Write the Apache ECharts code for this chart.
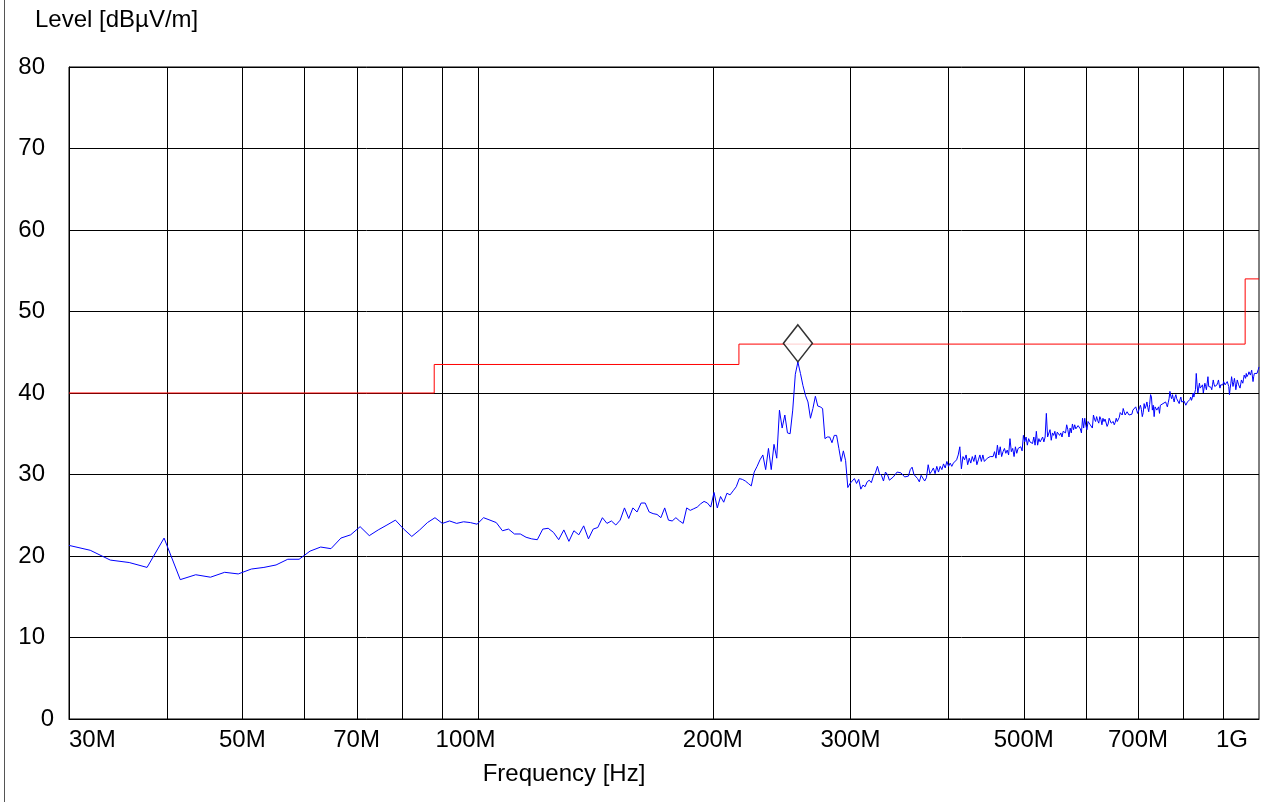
<!DOCTYPE html>
<html>
<head>
<meta charset="utf-8">
<title>Radiated emission 30 MHz – 1 GHz</title>
<script src="https://cdn.jsdelivr.net/npm/echarts@6/dist/echarts.min.js"></script>
<style>
  html, body { margin: 0; padding: 0; background: #fff; }
  #chart { width: 1272px; height: 802px; }
</style>
</head>
<body>
<div id="chart"></div>
<script>
// Receiver sweep: 501 points in linear steps from 30 MHz to 1 GHz
const SWEEP_START_MHZ = 30;
const SWEEP_STEP_MHZ = 1.94;

// Measured level per sweep point [dBµV/m]
const levelDb = [
  21.3, 20.7, 19.5, 19.2, 18.6, 22.2, 17.1, 17.7, 17.4, 18.0,
  17.8, 18.4, 18.6, 18.9, 19.6, 19.6, 20.6, 21.1, 20.9, 22.2,
  22.6, 23.6, 22.5, 23.2, 23.8, 24.4, 23.3, 22.4, 23.2, 24.1,
  24.7, 24.0, 24.3, 24.0, 24.2, 24.1, 23.9, 24.7, 24.4, 24.1,
  23.1, 23.3, 22.7, 22.7, 22.3, 22.1, 22.0, 23.3, 23.4, 22.9,
  22.0, 23.2, 21.8, 23.1, 22.6, 23.7, 22.1, 23.3, 23.5, 24.7,
  24.0, 24.3, 23.8, 24.4, 25.9, 24.6, 25.9, 25.4, 26.5, 26.5,
  25.4, 25.2, 25.1, 24.7, 25.9, 24.4, 24.3, 24.7, 24.3, 24.0,
  25.9, 25.6, 25.8, 26.0, 26.4, 26.7, 26.5, 26.0, 27.8, 25.9,
  27.3, 26.6, 27.7, 27.5, 28.0, 28.5, 29.5, 29.4, 29.2, 28.9,
  28.6, 30.3, 31.0, 31.8, 32.4, 30.6, 33.2, 30.6, 33.7, 32.0,
  37.9, 35.7, 37.3, 35.1, 35.0, 37.9, 42.3, 43.8, 42.4, 40.9,
  39.7, 38.9, 36.9, 38.1, 39.6, 38.4, 38.3, 38.1, 34.4, 34.6,
  34.6, 33.9, 34.8, 34.8, 33.2, 31.6, 32.9, 31.7, 28.4, 28.9,
  29.2, 29.5, 28.9, 29.4, 28.2, 28.7, 28.5, 29.1, 29.3, 29.0,
  29.8, 30.2, 31.0, 30.1, 29.9, 29.2, 30.3, 30.0, 29.3, 29.5,
  29.7, 29.9, 30.3, 30.1, 30.2, 30.4, 29.7, 29.9, 29.8, 30.6,
  30.9, 30.0, 30.1, 29.5, 29.1, 29.9, 30.1, 29.2, 29.6, 31.2,
  30.1, 30.4, 30.8, 30.1, 31.0, 30.3, 31.0, 30.6, 31.3, 30.8,
  31.6, 31.0, 31.4, 31.0, 31.4, 31.2, 31.8, 32.4, 33.4, 30.7,
  32.2, 31.8, 32.4, 31.2, 32.0, 31.4, 32.2, 31.6, 32.4, 31.2,
  31.8, 32.4, 31.6, 32.4, 31.6, 31.8, 32.0, 32.1, 32.2, 32.4,
  32.2, 32.8, 32.0, 33.6, 32.4, 33.4, 32.2, 32.8, 33.2, 32.6,
  33.0, 32.4, 34.4, 32.8, 33.2, 32.2, 33.4, 32.6, 33.2, 33.0,
  33.4, 32.9, 34.8, 34.0, 34.6, 33.6, 34.4, 34.0, 34.2, 33.8,
  34.6, 33.6, 35.3, 33.6, 34.4, 34.0, 34.2, 34.6, 34.0, 34.6,
  37.5, 34.6, 34.4, 35.5, 34.2, 35.1, 34.8, 35.3, 34.4, 35.2,
  35.2, 34.8, 35.1, 34.6, 35.3, 35.5, 35.1, 36.1, 35.5, 34.6,
  35.7, 35.1, 36.2, 35.5, 36.1, 35.6, 35.7, 36.0, 35.9, 35.6,
  35.1, 36.9, 35.7, 36.9, 36.0, 35.5, 36.5, 36.3, 36.1, 35.9,
  35.7, 37.3, 36.8, 36.5, 37.1, 36.6, 36.3, 37.1, 36.8, 36.1,
  36.9, 36.5, 36.8, 36.7, 35.9, 36.2, 36.9, 36.6, 36.3, 36.5,
  36.5, 36.1, 36.4, 36.9, 36.5, 36.3, 37.0, 37.6, 37.5, 37.3,
  38.1, 37.7, 37.3, 37.5, 37.7, 37.5, 37.3, 37.4, 37.5, 37.4,
  37.9, 38.1, 37.7, 38.3, 37.9, 37.5, 37.8, 38.2, 38.5, 38.0,
  37.1, 37.6, 38.7, 38.1, 38.4, 38.9, 38.2, 37.7, 38.6, 39.8,
  39.5, 37.9, 38.5, 37.1, 38.3, 38.5, 37.9, 38.1, 38.3, 37.5,
  38.5, 38.3, 38.4, 38.7, 38.5, 38.6, 38.9, 38.6, 38.3, 38.8,
  39.3, 40.2, 39.6, 39.3, 39.8, 39.3, 38.9, 39.5, 39.8, 39.3,
  39.4, 39.5, 38.7, 39.2, 39.5, 38.9, 39.1, 38.7, 39.0, 39.1,
  38.5, 38.7, 38.9, 38.8, 38.7, 39.2, 39.5, 39.1, 39.4, 40.0,
  39.5, 40.0, 40.4, 42.4, 41.0, 40.0, 40.6, 41.2, 40.6, 40.4,
  40.7, 41.0, 40.0, 40.6, 41.2, 40.8, 40.4, 41.2, 42.0, 40.8,
  40.6, 41.0, 40.7, 40.4, 41.0, 41.6, 41.1, 40.8, 41.0, 40.6,
  41.0, 41.3, 41.6, 41.0, 40.6, 41.0, 41.1, 40.8, 41.0, 41.4,
  41.2, 41.0, 41.1, 41.2, 41.4, 41.6, 40.8, 39.8, 40.6, 41.2,
  42.0, 41.4, 40.8, 41.3, 41.8, 41.2, 40.4, 41.0, 41.6, 41.4,
  41.0, 40.8, 40.6, 41.1, 41.6, 41.4, 41.2, 41.7, 42.2, 42.0,
  41.8, 42.4, 42.0, 41.8, 42.3, 42.6, 42.4, 42.2, 42.5, 42.8,
  42.1, 41.4, 42.0, 42.4, 42.2, 42.6, 42.5, 42.4, 42.6, 42.9, 43.2
];

// Limit line (step corners)
const limitFreqMHz = [30, 88, 88, 216, 216, 960, 960, 1000];
const limitDb      = [40, 40, 43.5, 43.5, 46, 46, 54, 54];

// Final measurement marker
const markerFreqMHz = [256.98];
const markerDb      = [46.1];

// Frequency grid lines and labelled frequencies
const gridFreqMHz  = [40, 50, 60, 70, 80, 90, 100, 200, 300, 400, 500, 600, 700, 800, 900];
const tickFreqMHz  = [30, 50, 70, 100, 200, 300, 500, 700, 1000];
const tickLabels   = ['30M', '50M', '70M', '100M', '200M', '300M', '500M', '700M', '1G'];

// Level axis
const LEVEL_MIN = 0, LEVEL_MAX = 80, LEVEL_STEP = 10;

const FONT_FAMILY = '"Liberation Sans", Arial, Helvetica, sans-serif';
const FONT = '24px ' + FONT_FAMILY;

// label placement at the ends of the frequency axis
const tickPlacement = {
  '30M':  { align: 'left',   dx: 0 },
  '100M': { align: 'center', dx: -12 },
  '1G':   { align: 'right',  dx: -11 }
};

const MHZ = 1e6;
const traceData = levelDb.map((v, i) => [(SWEEP_START_MHZ + SWEEP_STEP_MHZ * i) * MHZ, v]);
const limitData = limitFreqMHz.map((f, i) => [f * MHZ, limitDb[i]]);
const markerData = markerFreqMHz.map((f, i) => [f * MHZ, markerDb[i]]);

const chart = echarts.init(document.getElementById('chart'), null, { renderer: 'canvas' });

chart.setOption({
  animation: false,
  backgroundColor: '#fff',
  grid: {
    left: 69, right: 13, top: 67, bottom: 83,
    containLabel: false,
    outerBoundsMode: 'none',
    show: true,
    borderColor: '#000',
    borderWidth: 1,
    backgroundColor: 'transparent'
  },
  xAxis: {
    type: 'log',
    logBase: 10,
    min: SWEEP_START_MHZ * MHZ,
    max: 1000 * MHZ,
    axisLine: { show: true, lineStyle: { color: '#000', width: 1 } },
    axisTick: { show: false },
    axisLabel: { show: false },
    splitLine: { show: false },
    minorTick: { show: false },
    minorSplitLine: { show: false }
  },
  yAxis: {
    type: 'value',
    min: LEVEL_MIN,
    max: LEVEL_MAX,
    interval: LEVEL_STEP,
    axisLine: { show: true, lineStyle: { color: '#000', width: 1 } },
    axisTick: { show: false },
    splitLine: { show: true, lineStyle: { color: '#000', width: 1 } },
    axisLabel: {
      margin: 15,
      color: '#000',
      fontSize: 24,
      fontFamily: FONT_FAMILY,
      formatter: v => (v === 0 ? '0' : '{a|' + v + '}'),
      rich: {
        a: { padding: [0, 9, 0, 0], fontSize: 24, fontFamily: FONT_FAMILY, color: '#000' }
      }
    }
  },
  graphic: [
    {
      type: 'line',
      shape: { x1: 4.5, y1: 0, x2: 4.5, y2: 802 },
      style: { stroke: '#555', lineWidth: 1 },
      silent: true
    },
    {
      type: 'text',
      style: {
        text: 'Level [dBµV/m]',
        x: 35, y: 20,
        font: FONT, fill: '#000',
        align: 'left', verticalAlign: 'middle'
      },
      silent: true
    },
    {
      type: 'text',
      style: {
        text: 'Frequency [Hz]',
        x: 564, y: 774,
        font: FONT, fill: '#000',
        align: 'center', verticalAlign: 'middle'
      },
      silent: true
    }
  ],
  series: [
    {
      // vertical frequency grid lines
      type: 'custom',
      coordinateSystem: 'cartesian2d',
      silent: true,
      clip: false,
      z: 1,
      data: gridFreqMHz.map(f => [f * MHZ, LEVEL_MIN]),
      encode: { x: 0, y: 1 },
      renderItem: (params, api) => {
        const f = api.value(0);
        const p0 = api.coord([f, LEVEL_MIN]);
        const p1 = api.coord([f, LEVEL_MAX]);
        const x = Math.round(p0[0]) + 0.5;
        return {
          type: 'line',
          shape: { x1: x, y1: p0[1], x2: x, y2: p1[1] },
          style: { stroke: '#000', lineWidth: 1 }
        };
      }
    },
    {
      // frequency tick labels
      type: 'custom',
      coordinateSystem: 'cartesian2d',
      silent: true,
      clip: false,
      z: 1,
      data: tickFreqMHz.map(f => [f * MHZ, LEVEL_MIN]),
      encode: { x: 0, y: 1 },
      renderItem: (params, api) => {
        const i = params.dataIndex;
        const p = api.coord([api.value(0), LEVEL_MIN]);
        const text = tickLabels[i];
        const place = tickPlacement[text] || { align: 'center', dx: 0 };
        return {
          type: 'text',
          x: p[0] + place.dx,
          y: p[1] + 9,
          style: {
            text: text,
            font: FONT,
            fill: '#000',
            align: place.align,
            verticalAlign: 'top'
          }
        };
      }
    },
    {
      name: 'Level',
      type: 'line',
      data: traceData,
      showSymbol: false,
      symbol: 'none',
      sampling: null,
      lineStyle: { color: '#0000ff', width: 1 },
      itemStyle: { color: '#0000ff' },
      z: 2
    },
    {
      name: 'Limit',
      type: 'line',
      data: limitData,
      showSymbol: false,
      symbol: 'none',
      lineStyle: { color: '#ff0000', width: 1 },
      itemStyle: { color: '#ff0000' },
      z: 3
    },
    {
      name: 'Final',
      type: 'scatter',
      data: markerData,
      symbol: 'diamond',
      symbolSize: [29, 37],
      itemStyle: { color: '#fff', borderColor: '#000', borderWidth: 1.5 },
      z: 4
    }
  ]
});
</script>
</body>
</html>
